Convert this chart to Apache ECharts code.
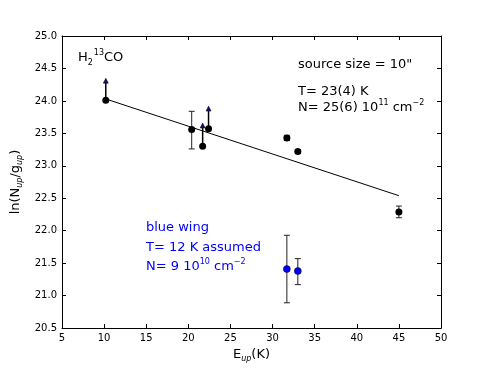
<html>
<head>
<meta charset="utf-8">
<script src="https://cdn.jsdelivr.net/npm/echarts@6/dist/echarts.min.js"></script>
<style>
  body{ margin:0; background:#fff; }
  #chart{ width:491px; height:368px; }
</style>
</head>
<body>
<div id="chart"></div>
<script>
// measured points (black)
var eup = [10.2, 20.4, 21.7, 22.4, 31.7, 33.0, 45.0];
var lnN = [24.01, 23.56, 23.30, 23.57, 23.43, 23.22, 22.29];
// error bars on black points
var errEup = [20.4, 31.7, 33.0, 45.0];
var errLo  = [23.26, 23.39, 23.19, 22.20];
var errHi  = [23.84, 23.47, 23.25, 22.38];
// lower limits (arrows)
var limEup  = [10.2, 21.7, 22.4];
var limFrom = [24.01, 23.30, 23.57];
var limTo   = [24.35, 23.66, 23.92];
// blue wing
var blueEup = [31.7, 33.0];
var blueLnN = [21.41, 21.38];
var blueLo  = [20.89, 21.17];
var blueHi  = [21.93, 21.57];
// rotational diagram fit
var fitEup = [10.2, 45.0];
var fitLnN = [24.03, 22.54];

var font = 'DejaVu Sans';

function zip(a, b){ return a.map(function(v, i){ return [v, b[i]]; }); }

var errData = zip(errEup, errLo).map(function(d, i){ return [d[0], d[1], errHi[i]]; })
  .concat(zip(blueEup, blueLo).map(function(d, i){ return [d[0], d[1], blueHi[i]]; }));
var limData = limEup.map(function(e, i){ return [e, limFrom[i], limTo[i]]; });

function renderErr(params, api){
  var lo = api.coord([api.value(0), api.value(1)]);
  var hi = api.coord([api.value(0), api.value(2)]);
  var w = 3;
  var st = { stroke:'#222', lineWidth:1 };
  return { type:'group', children:[
    { type:'line', shape:{ x1:lo[0], y1:lo[1], x2:hi[0], y2:hi[1] }, style:st },
    { type:'line', shape:{ x1:lo[0]-w, y1:lo[1], x2:lo[0]+w, y2:lo[1] }, style:st },
    { type:'line', shape:{ x1:hi[0]-w, y1:hi[1], x2:hi[0]+w, y2:hi[1] }, style:st }
  ]};
}

function renderLim(params, api){
  var a = api.coord([api.value(0), api.value(1)]);
  var b = api.coord([api.value(0), api.value(2)]);
  return { type:'group', children:[
    { type:'line', shape:{ x1:a[0], y1:a[1], x2:b[0], y2:b[1]+4 }, style:{ stroke:'#000', lineWidth:1.5 } },
    { type:'polygon', shape:{ points:[[b[0], b[1]], [b[0]-2.5, b[1]+5], [b[0]+2.5, b[1]+5]] }, style:{ fill:'#10106e', stroke:'#000', lineWidth:0.5 } }
  ]};
}

var chart = echarts.init(document.getElementById('chart'));
var axLine = { lineStyle:{ color:'#000', width:1 } };
var tick = { inside:true, length:4, lineStyle:{ color:'#000' } };
var nameRich = {
  b:{ fontFamily:font, fontSize:13, color:'#000', lineHeight:15, verticalAlign:'top' },
  s:{ fontFamily:font, fontSize:8, fontStyle:'italic', color:'#000', lineHeight:15, verticalAlign:'bottom' }
};

var option = {
  animation:false,
  grid:{ left:62, right:50, top:36, bottom:37 },
  xAxis:[
    { type:'value', min:5, max:50, interval:5, axisLine:axLine, axisTick:tick,
      splitLine:{ show:false },
      axisLabel:{ color:'#000', fontFamily:font, fontSize:10, margin:5 },
      name:'{b|E}{s|up}{b|(K)}', nameLocation:'middle', nameGap:16,
      nameTextStyle:{ rich:nameRich } },
    { type:'value', position:'top', min:5, max:50, interval:5, axisLine:axLine, axisTick:tick,
      axisLabel:{ show:false }, splitLine:{ show:false } }
  ],
  yAxis:[
    { type:'value', min:20.5, max:25, interval:0.5, axisLine:axLine, axisTick:tick,
      splitLine:{ show:false },
      axisLabel:{ color:'#000', fontFamily:font, fontSize:10, margin:5,
        formatter:function(v){ return v.toFixed(1); } },
      name:'{b|ln(N}{s|up}{b|/g}{s|up}{b|)}', nameLocation:'middle', nameGap:31,
      nameTextStyle:{ rich:nameRich } },
    { type:'value', position:'right', min:20.5, max:25, interval:0.5, axisLine:axLine, axisTick:tick,
      axisLabel:{ show:false }, splitLine:{ show:false } }
  ],
  series:[
    { type:'line', data:zip(fitEup, fitLnN), symbol:'none', lineStyle:{ color:'#000', width:1 }, z:2 },
    { type:'custom', renderItem:renderErr, data:errData, z:3 },
    { type:'custom', renderItem:renderLim, data:limData, z:3 },
    { type:'scatter', data:zip(eup, lnN), symbolSize:7, itemStyle:{ color:'#000', opacity:1 }, z:5 },
    { type:'scatter', data:zip(blueEup, blueLnN), symbolSize:7,
      itemStyle:{ color:'#0000ff', borderColor:'#000', borderWidth:0.5, opacity:1 }, z:5 }
  ],
  graphic:[
    { type:'text', left:78, top:49, style:{ text:'{b|H}{s|2}{u|13}{b|CO}', rich:{
        b:{ fontFamily:font, fontSize:13, fill:'#000', lineHeight:18, verticalAlign:'middle' },
        s:{ fontFamily:font, fontSize:8, fill:'#000', lineHeight:16, verticalAlign:'bottom' },
        u:{ fontFamily:font, fontSize:8, fill:'#000', lineHeight:16, verticalAlign:'top', padding:[0,0,0,1] }
      } } },
    { type:'text', left:298, top:58, style:{ text:'source size = 10"', fontFamily:font, fontSize:13, fill:'#000' } },
    { type:'text', left:298, top:85, style:{ text:'T= 23(4) K', fontFamily:font, fontSize:13, fill:'#000' } },
    { type:'text', left:298, top:99, style:{ text:'{b|N= 25(6) 10}{u|11}{b| cm}{u|−2}', rich:{
        b:{ fontFamily:font, fontSize:13, fill:'#000', lineHeight:18, verticalAlign:'middle' },
        u:{ fontFamily:font, fontSize:8, fill:'#000', lineHeight:18, verticalAlign:'top' }
      } } },
    { type:'text', left:146, top:221, style:{ text:'blue wing', fontFamily:font, fontSize:13, fill:'#0000ff' } },
    { type:'text', left:146, top:241, style:{ text:'T= 12 K assumed', fontFamily:font, fontSize:13, fill:'#0000ff' } },
    { type:'text', left:146, top:258, style:{ text:'{b|N= 9 10}{u|10}{b| cm}{u|−2}', rich:{
        b:{ fontFamily:font, fontSize:13, fill:'#0000ff', lineHeight:18, verticalAlign:'middle' },
        u:{ fontFamily:font, fontSize:8, fill:'#0000ff', lineHeight:18, verticalAlign:'top' }
      } } }
  ]
};
chart.setOption(option);
</script>
</body>
</html>
